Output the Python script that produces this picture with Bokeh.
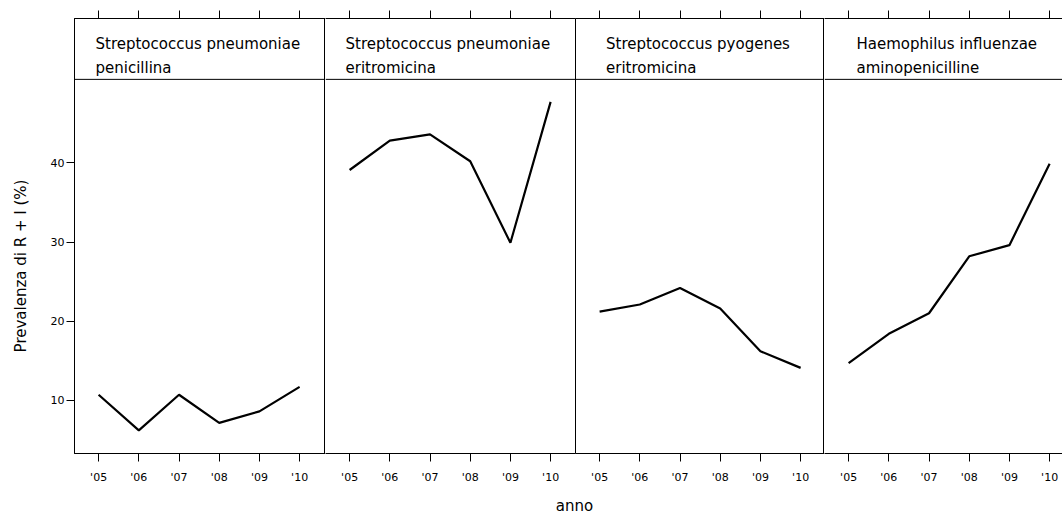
import math
from bokeh.plotting import figure
from bokeh.models import Range1d, FixedTicker, Label, Span, LinearAxis
from bokeh.layouts import column, row
from bokeh.embed import file_html
from bokeh.resources import INLINE

# ---------------- data ----------------
years = [5, 6, 7, 8, 9, 10]
year_labels = ["'05", "'06", "'07", "'08", "'09", "'10"]
strip_line1 = ["Streptococcus pneumoniae", "Streptococcus pneumoniae",
               "Streptococcus pyogenes", "Haemophilus influenzae"]
strip_line2 = ["penicillina", "eritromicina", "eritromicina", "aminopenicilline"]
s_pneumo_pen = [10.7, 6.2, 10.7, 7.15, 8.6, 11.7]
s_pneumo_eri = [39.1, 42.8, 43.6, 40.2, 29.9, 47.7]
s_pyo_eri = [21.2, 22.1, 24.2, 21.6, 16.2, 14.1]
h_infl_amino = [14.7, 18.4, 21.0, 28.2, 29.6, 39.9]
series = [s_pneumo_pen, s_pneumo_eri, s_pyo_eri, h_infl_amino]
y_ticks = [10, 20, 30, 40]
y_title = "Prevalenza di R + I (%)"
x_title = "anno"

# ---------------- layout / style ----------------
FONT = "DejaVu Sans"
YTITLE_W = 40
LEFT = 74 - YTITLE_W
TOP = 18
STRIP_H = 61
PANEL_H = 375
PANEL_BOTTOM = 32
ANNO_H = 28
TOTAL_W = 1062
frame_w = [251, 250, 249, 238]
PX_PER_YEAR = 40.2
X0 = 4.4
Y_LO, Y_HI = 3.28, 50.55
PX_PER_UNIT = PANEL_H / (Y_HI - Y_LO)
Y_TOP = Y_HI + STRIP_H / PX_PER_UNIT
FIG_H = TOP + STRIP_H + PANEL_H + PANEL_BOTTOM
text_off = [21, 20, 30.5, 32]   # px from frame left
LINE1_PX, LINE2_PX = 25.3, 49.7  # baselines, px below frame top
YLAB_X = 20                      # y-title centre (px from page left)
YLAB_SHIFT = -10                 # px
ANNO_X, ANNO_MID = 574, 9.0


def style_ticks(ax, font_size):
    ax.major_tick_out = 8
    ax.major_tick_in = 0
    ax.minor_tick_out = 0
    ax.minor_tick_in = 0
    ax.axis_line_color = "black"
    ax.major_tick_line_color = "black"
    ax.major_label_text_font = FONT
    ax.major_label_text_font_size = font_size
    ax.major_label_text_color = "black"


# ---- y title column ----
yt = figure(width=YTITLE_W, height=FIG_H, x_range=Range1d(0, YTITLE_W),
            y_range=Range1d(0, FIG_H), output_backend="svg", toolbar_location=None,
            min_border=0, x_axis_location=None, y_axis_location=None)
yt.xgrid.visible = False
yt.ygrid.visible = False
yt.outline_line_color = None
yt.add_layout(Label(x=YLAB_X, y=PANEL_BOTTOM + PANEL_H / 2 + YLAB_SHIFT, text=y_title,
                    angle=math.pi / 2, text_font=FONT, text_font_size="15px",
                    text_color="black", text_align="center", text_baseline="middle"))

panels = []
for i in range(4):
    left = LEFT if i == 0 else 0
    boxed = i in (0, 2)   # columns 1 and 3 carry outlines; 2 and 4 share their edges
    xr = Range1d(X0, X0 + frame_w[i] / PX_PER_YEAR)
    p = figure(width=frame_w[i] + left, height=FIG_H,
               x_range=xr, y_range=Range1d(Y_LO, Y_TOP), output_backend="svg",
               toolbar_location=None, min_border_left=left, min_border_right=0,
               min_border_top=TOP, min_border_bottom=PANEL_BOTTOM,
               x_axis_location="below",
               y_axis_location="left" if i == 0 else None)
    p.xgrid.visible = False
    p.ygrid.visible = False
    p.outline_line_color = "black" if boxed else None

    # bottom axis
    xa = p.below[0]
    xa.ticker = FixedTicker(ticks=years)
    xa.major_label_overrides = {y: l for y, l in zip(years, year_labels)}
    xa.major_label_standoff = 9
    style_ticks(xa, "11px")

    # top ticks (no labels)
    top_ax = LinearAxis(ticker=FixedTicker(ticks=years), major_label_standoff=0,
                        major_label_text_alpha=0)
    style_ticks(top_ax, "0px")
    p.add_layout(top_ax, "above")

    # strip separator
    p.add_layout(Span(location=Y_HI, dimension="width", line_color="black", line_width=1))
    # strip texts
    tx = X0 + text_off[i] / PX_PER_YEAR
    for txt, px in [(strip_line1[i], LINE1_PX), (strip_line2[i], LINE2_PX)]:
        p.add_layout(Label(x=tx, y=Y_TOP - px / PX_PER_UNIT, text=txt, text_font=FONT,
                           text_font_size="15px", text_color="black",
                           text_baseline="alphabetic", text_align="left"))

    if i == 0:
        ya = p.left[0]
        ya.ticker = FixedTicker(ticks=y_ticks)
        ya.major_label_standoff = 2
        style_ticks(ya, "11px")
    p.line(years, series[i], line_color="black", line_width=2.2)
    panels.append(p)

# ---- x title row ----
a = figure(width=TOTAL_W, height=ANNO_H, x_range=Range1d(0, TOTAL_W),
           y_range=Range1d(0, ANNO_H), output_backend="svg", toolbar_location=None,
           min_border=0, x_axis_location=None, y_axis_location=None)
a.xgrid.visible = False
a.ygrid.visible = False
a.outline_line_color = None
a.add_layout(Label(x=ANNO_X, y=ANNO_MID, text=x_title, text_font=FONT,
                   text_font_size="15px", text_color="black",
                   text_align="center", text_baseline="middle"))

layout = column(row(yt, *panels), a)
open("out.html", "w").write(file_html(layout, INLINE))
